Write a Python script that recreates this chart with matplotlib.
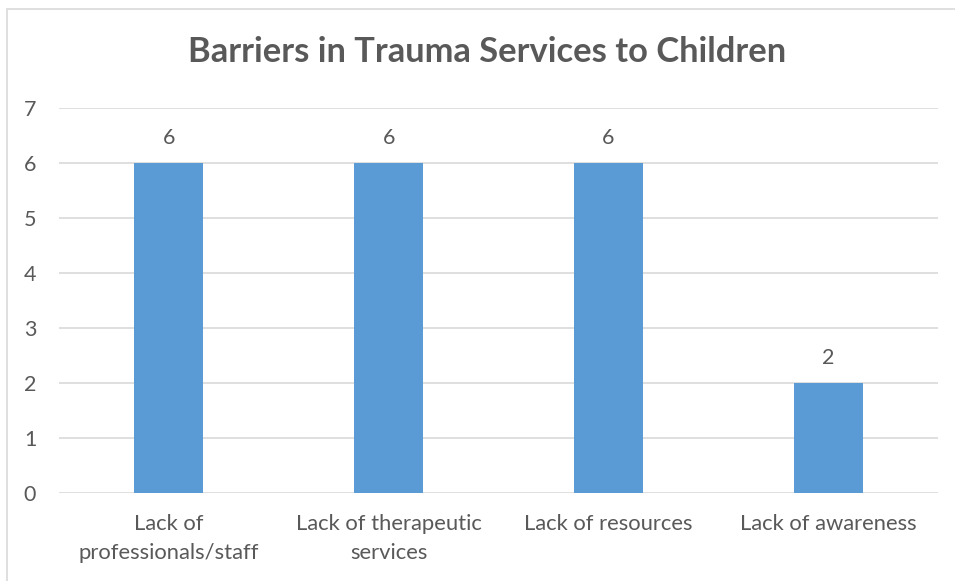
import matplotlib
matplotlib.use("Agg")
import matplotlib.pyplot as plt
from matplotlib.patches import Rectangle

categories = ["Lack of\nprofessionals/staff", "Lack of therapeutic\nservices",
              "Lack of resources", "Lack of awareness"]
counts = [6, 6, 6, 2]
y_ticks = [0, 1, 2, 3, 4, 5, 6, 7]

text_color = "#595959"
bar_color = "#5B9BD5"
grid_color = "#D9D9D9"

plt.rcParams["font.family"] = ["Lato", "DejaVu Sans"]

fig = plt.figure(figsize=(9.55, 5.81), dpi=100)
# chart border (only left/top visible in the cropped original)
fig.patches.append(Rectangle((7 / 955, -0.1), 1.2, 1.1 - 9 / 581, transform=fig.transFigure,
                             fill=False, edgecolor=grid_color, linewidth=1.2))

ax = fig.add_axes([59 / 955, 1 - 493 / 581, (938 - 59) / 955, (493 - 108) / 581])
x = range(len(categories))
bars = ax.bar(x, counts, width=0.315, color=bar_color, zorder=3)

ax.set_xlim(-0.5, len(categories) - 0.5)
ax.set_ylim(0, 7)
ax.set_yticks(y_ticks)
ax.set_xticks(list(x))
ax.set_xticklabels(categories, fontsize=15.8, color=text_color, linespacing=1.55)
ax.tick_params(axis="y", length=0, pad=0, labelsize=15.5, labelcolor=text_color)
ax.tick_params(axis="x", length=0, pad=15)
for lbl in ax.get_yticklabels():
    lbl.set_horizontalalignment("left")
    lbl.set_x(-0.04)

ax.grid(axis="y", color=grid_color, linewidth=1.2, zorder=0)
for s in ax.spines.values():
    s.set_visible(False)

for rect, v in zip(bars, counts):
    ax.annotate(str(v), (rect.get_x() + rect.get_width() / 2, v), xytext=(0, 18),
                textcoords="offset points", ha="center", va="center",
                fontsize=15.5, color=text_color)

fig.text(487 / 955, 1 - 52 / 581, "Barriers in Trauma Services to Children", ha="center",
         va="center", fontsize=24.8, fontweight="bold", color=text_color)

fig.savefig("out.png", dpi=100)
